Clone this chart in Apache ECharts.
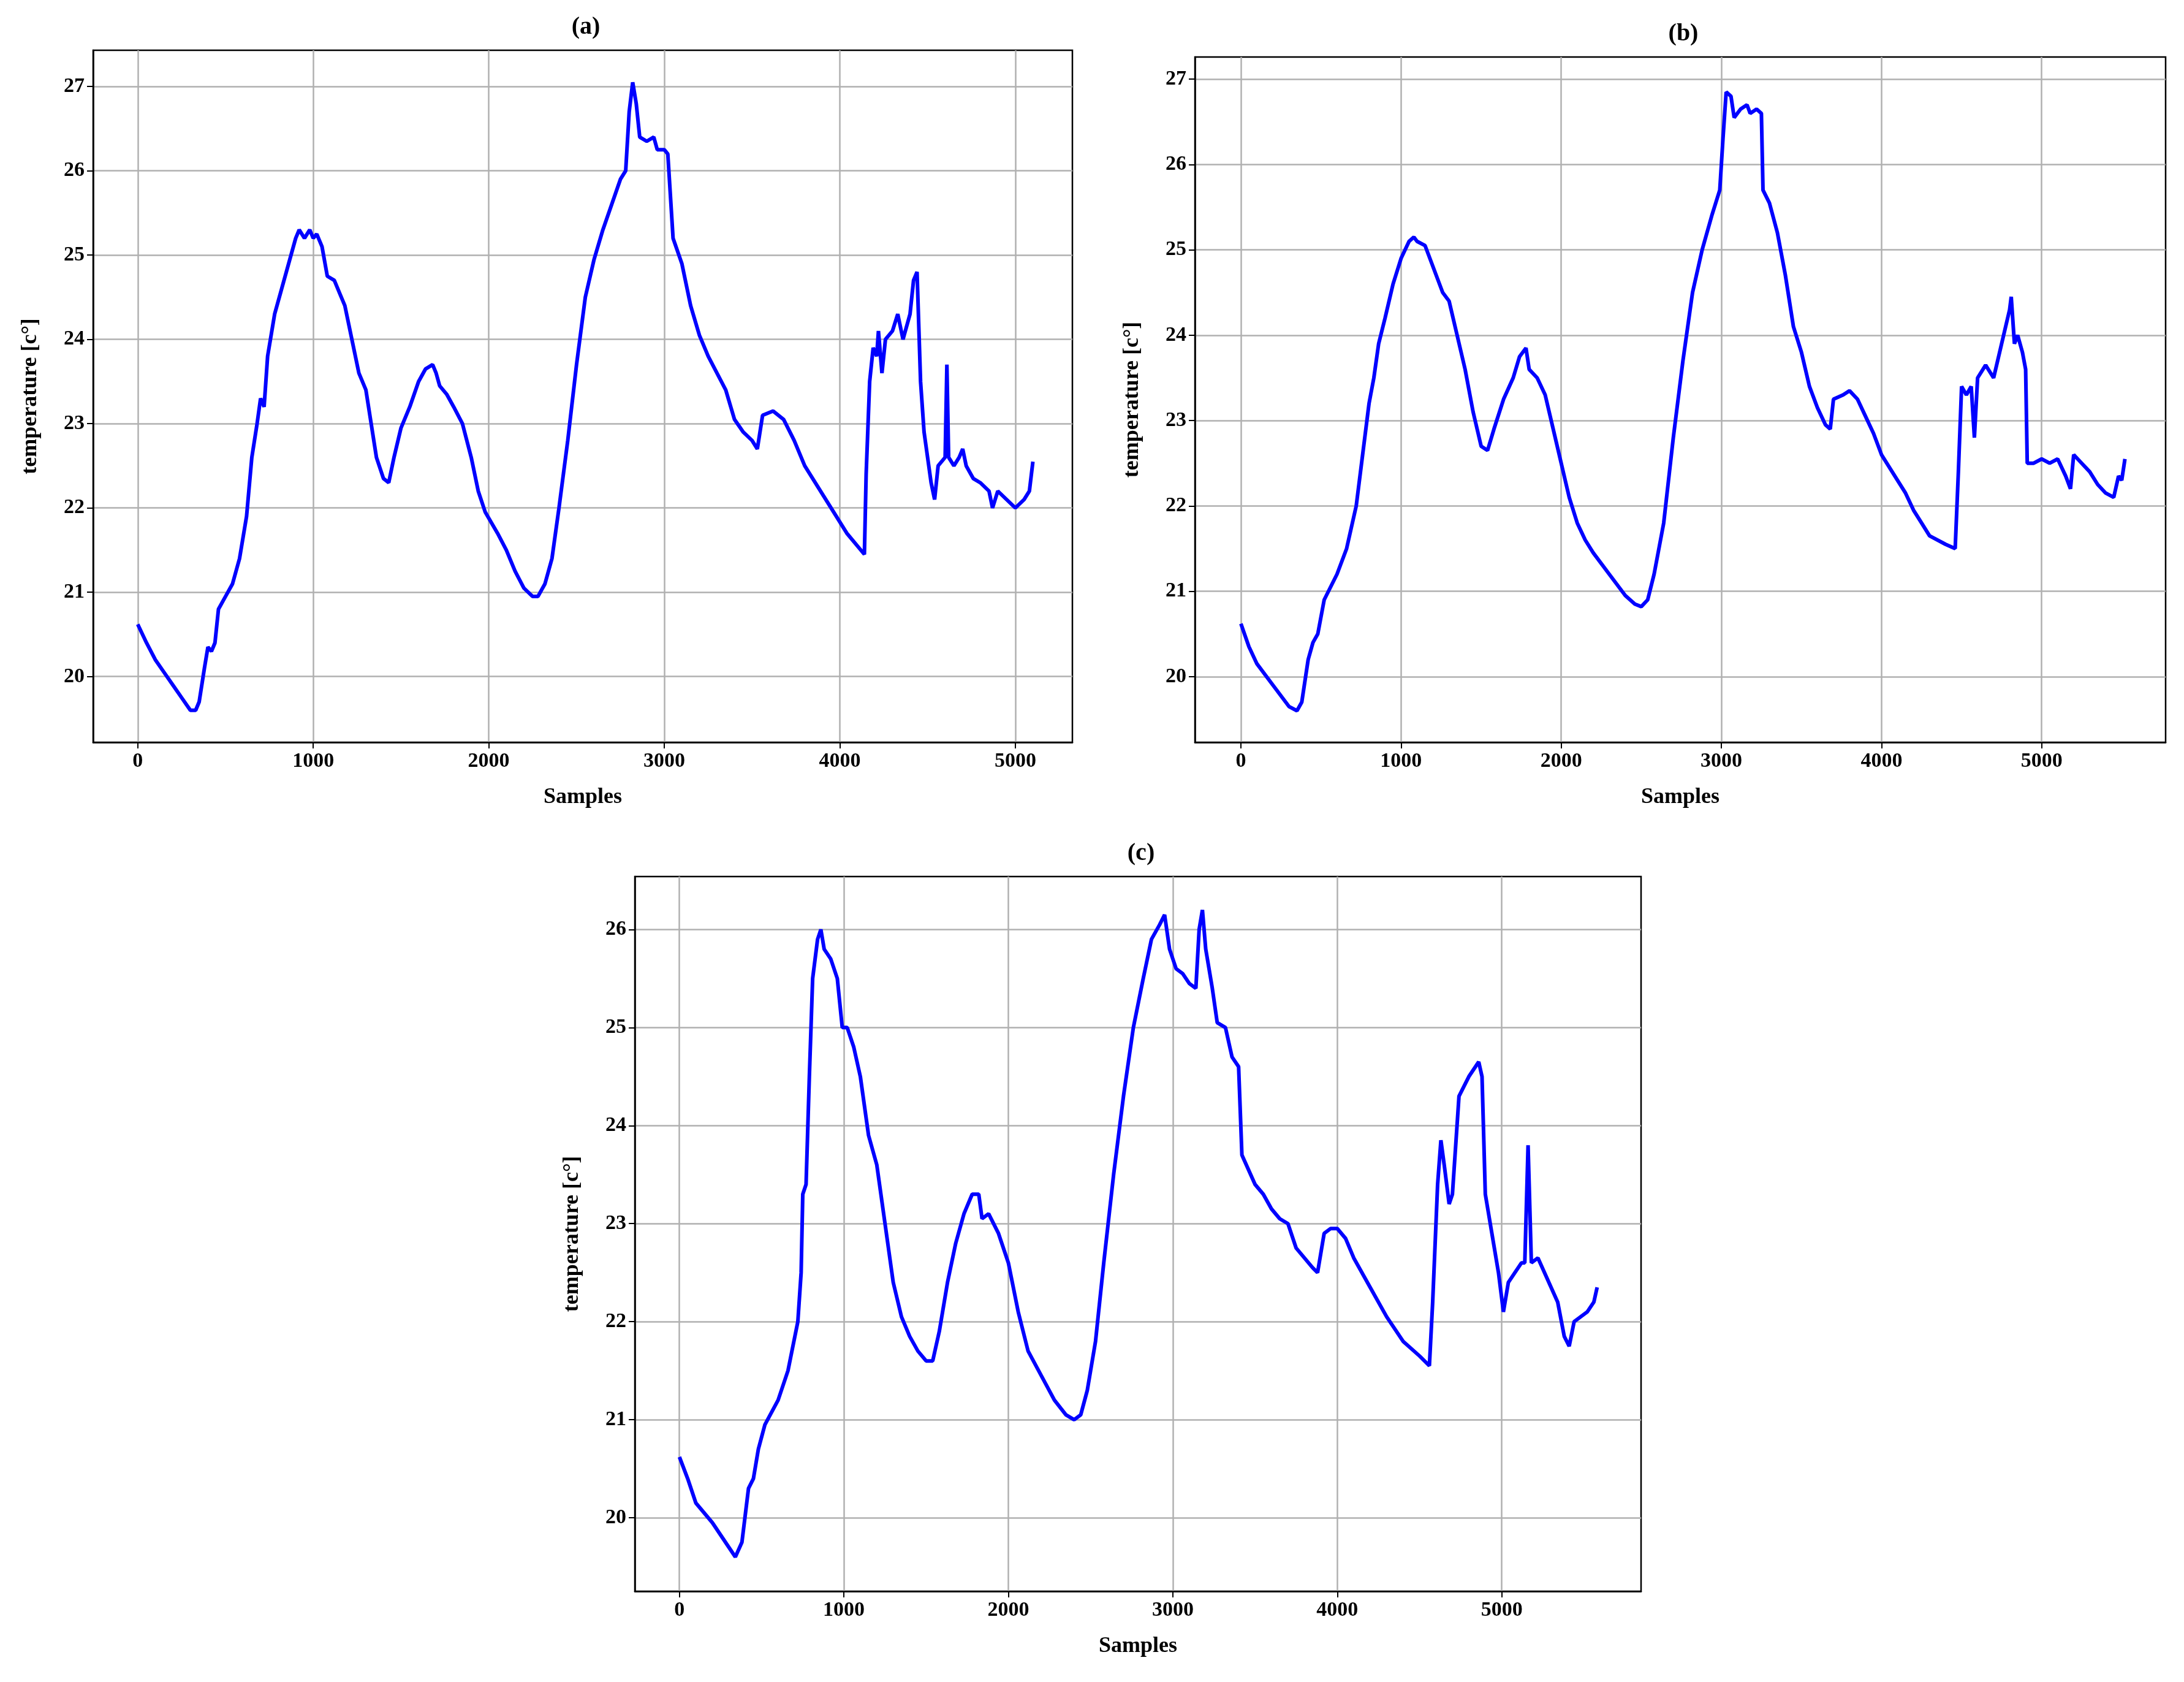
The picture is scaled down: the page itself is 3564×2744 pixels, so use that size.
<!DOCTYPE html>
<html><head><meta charset="utf-8">
<script src="https://cdn.jsdelivr.net/npm/echarts@6/dist/echarts.min.js"></script>
<style>html,body{margin:0;padding:0;background:#fff}#c{width:3564px;height:2744px}</style>
</head><body><div id="c"></div>
<script>
const titles = ['(a)', '(b)', '(c)'];
const xTicksA = [0,1000,2000,3000,4000,5000];
const seriesA = [[0,20.62],[50,20.4],[100,20.2],[150,20.05],[200,19.9],[250,19.75],[300,19.6],[330,19.6],[350,19.7],[380,20.1],[400,20.35],[420,20.3],[440,20.4],[460,20.8],[500,20.95],[540,21.1],[580,21.4],[620,21.9],[650,22.6],[680,23.0],[700,23.3],[720,23.2],[740,23.8],[780,24.3],[820,24.6],[860,24.9],[900,25.2],[920,25.3],[950,25.2],[980,25.3],[1000,25.2],[1020,25.25],[1050,25.1],[1080,24.75],[1120,24.7],[1150,24.55],[1180,24.4],[1220,24.0],[1260,23.6],[1300,23.4],[1330,23.0],[1360,22.6],[1400,22.35],[1430,22.3],[1460,22.6],[1500,22.95],[1550,23.2],[1600,23.5],[1640,23.65],[1680,23.7],[1700,23.6],[1720,23.45],[1760,23.35],[1800,23.2],[1850,23.0],[1900,22.6],[1940,22.2],[1980,21.95],[2050,21.7],[2100,21.5],[2150,21.25],[2200,21.05],[2250,20.95],[2280,20.95],[2320,21.1],[2360,21.4],[2400,22.0],[2450,22.8],[2500,23.7],[2550,24.5],[2600,24.95],[2650,25.3],[2700,25.6],[2750,25.9],[2780,26.0],[2800,26.7],[2820,27.05],[2840,26.8],[2860,26.4],[2900,26.35],[2940,26.4],[2960,26.25],[3000,26.25],[3020,26.2],[3050,25.2],[3100,24.9],[3150,24.4],[3200,24.05],[3250,23.8],[3300,23.6],[3350,23.4],[3400,23.05],[3450,22.9],[3500,22.8],[3530,22.7],[3560,23.1],[3620,23.15],[3680,23.05],[3740,22.8],[3800,22.5],[3860,22.3],[3920,22.1],[3980,21.9],[4040,21.7],[4100,21.55],[4140,21.45],[4150,22.4],[4170,23.5],[4190,23.9],[4210,23.8],[4220,24.1],[4240,23.6],[4260,24.0],[4300,24.1],[4330,24.3],[4360,24.0],[4400,24.3],[4420,24.7],[4440,24.8],[4460,23.5],[4480,22.9],[4500,22.6],[4520,22.3],[4540,22.1],[4560,22.5],[4600,22.6],[4610,23.7],[4620,22.6],[4650,22.5],[4680,22.6],[4700,22.7],[4720,22.5],[4760,22.35],[4800,22.3],[4850,22.2],[4870,22.0],[4900,22.2],[4950,22.1],[5000,22.0],[5050,22.1],[5080,22.2],[5100,22.55]];
const seriesB = [[0,20.62],[50,20.35],[100,20.15],[200,19.9],[300,19.65],[350,19.6],[380,19.7],[420,20.2],[450,20.4],[480,20.5],[520,20.9],[600,21.2],[660,21.5],[720,22.0],[760,22.6],[800,23.2],[830,23.5],[860,23.9],[900,24.2],[950,24.6],[1000,24.9],[1050,25.1],[1080,25.15],[1100,25.1],[1150,25.05],[1200,24.8],[1260,24.5],[1300,24.4],[1350,24.0],[1400,23.6],[1450,23.1],[1500,22.7],[1540,22.65],[1580,22.9],[1640,23.25],[1700,23.5],[1740,23.75],[1780,23.85],[1800,23.6],[1850,23.5],[1900,23.3],[1950,22.9],[2000,22.5],[2050,22.1],[2100,21.8],[2150,21.6],[2200,21.45],[2300,21.2],[2400,20.95],[2460,20.85],[2500,20.82],[2540,20.9],[2580,21.2],[2640,21.8],[2700,22.8],[2760,23.7],[2820,24.5],[2880,25.0],[2940,25.4],[2990,25.7],[3010,26.3],[3030,26.85],[3060,26.8],[3080,26.55],[3120,26.65],[3160,26.7],[3180,26.6],[3220,26.65],[3250,26.6],[3260,25.7],[3300,25.55],[3350,25.2],[3400,24.7],[3450,24.1],[3500,23.8],[3550,23.4],[3600,23.15],[3650,22.95],[3680,22.9],[3700,23.25],[3760,23.3],[3800,23.35],[3850,23.25],[3900,23.05],[3950,22.85],[4000,22.6],[4100,22.3],[4150,22.15],[4200,21.95],[4250,21.8],[4300,21.65],[4400,21.55],[4460,21.5],[4480,22.4],[4500,23.4],[4530,23.3],[4560,23.4],[4580,22.8],[4600,23.5],[4650,23.65],[4700,23.5],[4750,23.9],[4800,24.3],[4810,24.45],[4830,23.9],[4850,24.0],[4880,23.8],[4900,23.6],[4910,22.5],[4950,22.5],[5000,22.55],[5050,22.5],[5100,22.55],[5150,22.35],[5180,22.2],[5200,22.6],[5250,22.5],[5300,22.4],[5350,22.25],[5400,22.15],[5450,22.1],[5480,22.35],[5500,22.3],[5520,22.55]];
const seriesC = [[0,20.62],[50,20.4],[100,20.15],[200,19.95],[300,19.7],[340,19.6],[380,19.75],[420,20.3],[450,20.4],[480,20.7],[520,20.95],[600,21.2],[660,21.5],[720,22.0],[740,22.5],[750,23.3],[770,23.4],[790,24.5],[810,25.5],[840,25.9],[860,26.0],[880,25.8],[920,25.7],[960,25.5],[990,25.0],[1020,25.0],[1060,24.8],[1100,24.5],[1150,23.9],[1200,23.6],[1250,23.0],[1300,22.4],[1350,22.05],[1400,21.85],[1450,21.7],[1500,21.6],[1540,21.6],[1580,21.9],[1630,22.4],[1680,22.8],[1730,23.1],[1780,23.3],[1820,23.3],[1840,23.05],[1880,23.1],[1940,22.9],[2000,22.6],[2060,22.1],[2120,21.7],[2200,21.45],[2280,21.2],[2350,21.05],[2400,21.0],[2440,21.05],[2480,21.3],[2530,21.8],[2580,22.6],[2640,23.5],[2700,24.3],[2760,25.0],[2820,25.5],[2870,25.9],[2920,26.05],[2950,26.15],[2980,25.8],[3020,25.6],[3060,25.55],[3100,25.45],[3140,25.4],[3160,26.0],[3180,26.2],[3200,25.8],[3240,25.4],[3270,25.05],[3320,25.0],[3360,24.7],[3400,24.6],[3420,23.7],[3460,23.55],[3500,23.4],[3550,23.3],[3600,23.15],[3650,23.05],[3700,23.0],[3750,22.75],[3800,22.65],[3850,22.55],[3880,22.5],[3920,22.9],[3960,22.95],[4000,22.95],[4050,22.85],[4100,22.65],[4200,22.35],[4300,22.05],[4400,21.8],[4500,21.65],[4560,21.55],[4580,22.2],[4610,23.4],[4630,23.85],[4650,23.6],[4680,23.2],[4700,23.3],[4740,24.3],[4770,24.4],[4800,24.5],[4840,24.6],[4860,24.65],[4880,24.5],[4900,23.3],[4940,22.9],[4980,22.5],[5010,22.1],[5040,22.4],[5080,22.5],[5120,22.6],[5140,22.6],[5160,23.8],[5180,22.6],[5220,22.65],[5260,22.5],[5300,22.35],[5340,22.2],[5380,21.85],[5410,21.75],[5440,22.0],[5480,22.05],[5520,22.1],[5560,22.2],[5580,22.35]];

const FONT = 'Liberation Serif';
const grids = [
  {left:152, width:1598, top:82, height:1129},
  {left:1950, width:1584, top:93, height:1118},
  {left:1036, width:1642, top:1430, height:1166}
];
const xr = [[-254,5325],[-287,5774],[-271,5847]];
const yr = [[19.22,27.43],[19.23,27.26],[19.25,26.54]];
const datasets = [seriesA, seriesB, seriesC];
const chart = echarts.init(document.getElementById('c'), null, {renderer:'canvas'});
const labelStyle = {color:'#000', fontFamily:FONT, fontWeight:'bold', fontSize:34, margin:14, formatter:v=>String(v)};
const tickStyle = {show:true, inside:false, length:10, lineStyle:{color:'#000', width:2}};
const axisCommon = {
  axisLine:{show:true, onZero:false, lineStyle:{color:'#000', width:2.5}},
  splitLine:{show:true, lineStyle:{color:'#b0b0b0', width:2.5}},
  nameTextStyle:{color:'#000', fontFamily:FONT, fontWeight:'bold', fontSize:36}
};
chart.setOption({
  animation:false,
  backgroundColor:'#fff',
  title: titles.map((t,i)=>({text:t, left:grids[i].left+grids[i].width/2, top:grids[i].top-62, textAlign:'center',
    textStyle:{fontFamily:FONT, fontWeight:'bold', fontSize:40, color:'#000'}})),
  grid: grids.map(g=>Object.assign({show:true, borderColor:'#000', borderWidth:2.5, backgroundColor:'transparent'}, g)),
  xAxis: grids.map((g,i)=>Object.assign({}, axisCommon, {type:'value', gridIndex:i, min:xr[i][0], max:xr[i][1],
    name:'Samples', nameLocation:'middle', nameGap:72,
    axisLabel:Object.assign({}, labelStyle, {customValues:xTicksA}),
    axisTick:Object.assign({}, tickStyle, {customValues:xTicksA})})),
  yAxis: grids.map((g,i)=>{
    const ticks=[]; for(let v=Math.ceil(yr[i][0]); v<=yr[i][1]; v++) ticks.push(v);
    return Object.assign({}, axisCommon, {type:'value', gridIndex:i, min:yr[i][0], max:yr[i][1],
      name:'temperature [c°]', nameLocation:'middle', nameGap:84, nameRotate:90,
      axisLabel:Object.assign({}, labelStyle, {customValues:ticks}),
      axisTick:Object.assign({}, tickStyle, {customValues:ticks})});
  }),
  series: datasets.map((d,i)=>({type:'line', xAxisIndex:i, yAxisIndex:i, data:d, showSymbol:false,
    lineStyle:{color:'#0000ff', width:6}}))
});
</script></body></html>
